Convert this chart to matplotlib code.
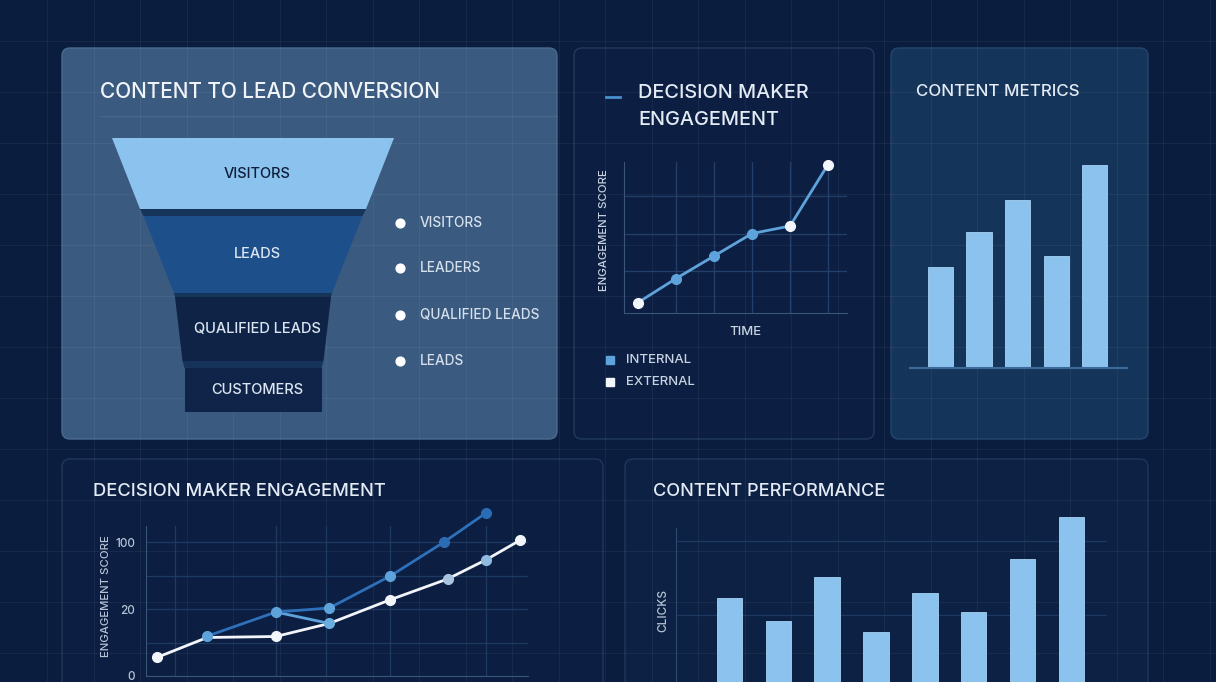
import numpy as np
import matplotlib.pyplot as plt
from matplotlib.patches import FancyBboxPatch, Polygon, Rectangle

plt.rcParams['font.family'] = ['Inter', 'DejaVu Sans']
plt.rcParams['font.weight'] = 'medium'

W, H = 1216, 682

# ---- data ----
funnel_stages = ['VISITORS', 'LEADS', 'QUALIFIED LEADS', 'CUSTOMERS']
funnel_top = [282, 219, 156, 137]
funnel_bottom = [226, 158, 141, 137]
funnel_legend = ['VISITORS', 'LEADERS', 'QUALIFIED LEADS', 'LEADS']

dm_time = [0, 1, 2, 3, 4, 5]
dm_score = [4, 20, 35, 50, 55, 96]
dm_group = ['external', 'internal', 'internal', 'internal', 'external', 'external']

cm_values = [50, 67, 83, 55, 100]

eng_blue_x = [1.6, 3.4, 4.8, 6.4, 7.8, 8.9]
eng_blue_y = [1.19, 1.91, 2.03, 2.99, 4.0, 4.87]
eng_white_x = [0.3, 1.6, 3.4, 4.8, 6.4, 7.9, 8.9, 9.8]
eng_white_y = [0.56, 1.15, 1.18, 1.57, 2.28, 2.90, 3.47, 4.06]
eng_branch_x = [3.4, 4.8]
eng_branch_y = [1.91, 1.57]

perf_clicks = [123, 92, 151, 77, 130, 104, 176, 232]

# ---- colours ----
BG = '#0a1d3f'
LIGHT = '#8cc3ee'
BLUE = '#5fa3dc'
DARKBLUE = '#2a6cb5'
TXT = '#e4ebf4'


def px_axes(fig, x0, y0, x1, y1):
    # pixel box (top-left origin) -> figure axes
    return fig.add_axes([x0 / W, 1 - y1 / H, (x1 - x0) / W, (y1 - y0) / H])


fig = plt.figure(figsize=(W / 100, H / 100), dpi=100)
fig.patch.set_facecolor(BG)

bg = fig.add_axes([0, 0, 1, 1])
bg.set_xlim(0, W)
bg.set_ylim(H, 0)
bg.axis('off')

# panels
panels = [
    (62, 48, 557, 439, '#3a5a7f', '#4a6a8f'),
    (574, 48, 874, 439, '#0c1f42', '#22395e'),
    (891, 48, 1148, 439, '#15345a', '#24466e'),
    (62, 459, 603, 710, '#0c1f42', '#1f375c'),
    (625, 459, 1148, 710, '#0c2144', '#1f375c'),
]
for x0, y0, x1, y1, fc, ec in panels:
    bg.add_patch(FancyBboxPatch((x0, y0), x1 - x0, y1 - y0,
                                boxstyle='round,pad=0,rounding_size=8',
                                fc=fc, ec=ec, lw=1, zorder=1))

# page grid
for gx in np.arange(47, W, 46.5):
    bg.axvline(gx, color='white', alpha=0.05, lw=0.8, zorder=2)
for gy in np.arange(41, H, 51):
    bg.axhline(gy, color='white', alpha=0.05, lw=0.8, zorder=2)

# ---- panel 1: funnel ----
bg.text(100, 92, 'CONTENT TO LEAD CONVERSION', color='#f0f4f8', fontsize=15,
        va='center', ha='left', zorder=5)
bg.plot([100, 557], [116, 116], color='white', alpha=0.08, lw=1, zorder=3)

ax_f = px_axes(fig, 62, 120, 557, 430)
ax_f.set_xlim(-191, 304)
ax_f.set_ylim(430, 120)
ax_f.axis('off')
ax_f.patch.set_alpha(0)

stage_y = [(138, 209), (216, 293), (297, 361), (368, 412)]
stage_fc = [LIGHT, '#1d4f8a', '#0e2346', '#0f2448']
stage_tc = ['#0e1f3b', '#dbe6f2', '#dbe6f2', '#dbe6f2']
band_fc = '#16335a'
for i in range(len(funnel_stages)):
    t, b = stage_y[i]
    wt, wb = funnel_top[i], funnel_bottom[i]
    ax_f.add_patch(Polygon([(-wt / 2, t), (wt / 2, t), (wb / 2, b), (-wb / 2, b)],
                           closed=True, fc=stage_fc[i], ec='none', zorder=3))
    if i + 1 < len(funnel_stages):
        nt = stage_y[i + 1][0]
        wn = funnel_top[i + 1]
        ax_f.add_patch(Polygon([(-wb / 2, b), (wb / 2, b), (wn / 2, nt), (-wn / 2, nt)],
                               closed=True, fc=band_fc, ec='none', zorder=2))
    ax_f.text(4, (t + b) / 2, funnel_stages[i], color=stage_tc[i], fontsize=10.5,
              ha='center', va='center', zorder=4)

leg_y = [223, 268, 315, 361]
for lab, ly in zip(funnel_legend, leg_y):
    bg.scatter([400], [ly], s=40, color='white', zorder=5)
    bg.text(420, ly, lab, color='#d6e0ec', fontsize=9.8, va='center', ha='left', zorder=5)

# ---- panel 2: decision maker engagement line ----
bg.plot([606, 620], [97, 97], color='#4a8fd0', lw=2, zorder=5)
bg.text(638, 93, 'DECISION MAKER', color=TXT, fontsize=14.3, va='center', zorder=5)
bg.text(638, 120, 'ENGAGEMENT', color=TXT, fontsize=14.3, va='center', zorder=5)

ax2 = px_axes(fig, 624, 162, 847, 313)
ax2.patch.set_alpha(0)
ax2.plot(dm_time, dm_score, color=BLUE, lw=2, zorder=3, clip_on=False)
mcol = {'internal': BLUE, 'external': '#f2f5f9'}
for t, s, g in zip(dm_time, dm_score, dm_group):
    ax2.plot(t, s, 'o', ms=7, color=mcol[g], zorder=4, clip_on=False)
ax2.set_xlim(-0.37, 5.5)
ax2.set_ylim(-3, 97.7)
ax2.set_xticks(dm_time[1:])
ax2.set_yticks([25, 50, 75])
ax2.tick_params(length=0, labelbottom=False, labelleft=False)
ax2.grid(True, color='#24406a', lw=0.9)
for sp in ['top', 'right']:
    ax2.spines[sp].set_visible(False)
for sp in ['left', 'bottom']:
    ax2.spines[sp].set_color('#3b557a')
bg.text(604, 230, 'ENGAGEMENT SCORE', rotation=90, color='#c8d3e2', fontsize=8.2,
        ha='center', va='center', zorder=5)
bg.text(745, 332, 'TIME', color='#c8d3e2', fontsize=9.5, ha='center', va='center', zorder=5)
bg.add_patch(Rectangle((606, 356), 8, 8, color=BLUE, zorder=5))
bg.add_patch(Rectangle((606, 378), 8, 8, color='#f2f5f9', zorder=5))
bg.text(626, 360, 'INTERNAL', color='#c8d3e2', fontsize=9.5, va='center', zorder=5)
bg.text(626, 382, 'EXTERNAL', color='#c8d3e2', fontsize=9.5, va='center', zorder=5)

# ---- panel 3: content metrics ----
bg.text(916, 91, 'CONTENT METRICS', color=TXT, fontsize=12.2, va='center', zorder=5)
ax3 = px_axes(fig, 910, 150, 1127, 368)
ax3.patch.set_alpha(0)
ax3.bar(range(len(cm_values)), cm_values, width=0.65, color=LIGHT,
        edgecolor='#a5d2f4', lw=0.6, zorder=3)
ax3.set_xlim(-0.79, 4.84)
ax3.set_ylim(0, 107.4)
ax3.axhline(0, color='#3c6a9a', lw=1.5, zorder=4, clip_on=False)
ax3.axis('off')

# ---- panel 4: decision maker engagement (bottom) ----
bg.text(93, 492, 'DECISION MAKER ENGAGEMENT', color=TXT, fontsize=13.2, va='center', zorder=5)
ax4 = px_axes(fig, 146, 526, 528, 676)
ax4.patch.set_alpha(0)
ax4.plot(eng_white_x, eng_white_y, color='#f2f5f9', lw=2, zorder=3, clip_on=False)
ax4.plot(eng_branch_x, eng_branch_y, color=BLUE, lw=2, zorder=3, clip_on=False)
ax4.plot(eng_blue_x, eng_blue_y, color='#2e70ba', lw=2, zorder=4, clip_on=False)
white_mc = ['#f2f5f9', None, '#f2f5f9', '#6aaee0', '#f2f5f9', '#a9c4de', '#8fbbe0', '#f2f5f9']
for x, y, c in zip(eng_white_x, eng_white_y, white_mc):
    if c:
        ax4.plot(x, y, 'o', ms=7, color=c, zorder=5, clip_on=False)
blue_mc = [BLUE, BLUE, BLUE, BLUE, DARKBLUE, DARKBLUE]
for x, y, c in zip(eng_blue_x, eng_blue_y, blue_mc):
    ax4.plot(x, y, 'o', ms=7, color=c, zorder=6, clip_on=False)
ax4.set_xlim(0, 10)
ax4.set_ylim(0, 4.48)
ax4.set_yticks([0, 2, 4])
ax4.set_yticklabels(['0', '20', '100'])
ax4.set_yticks([1, 3], minor=True)
ax4.set_xticks([0.76, 3.4, 4.7, 6.4, 8.9])
ax4.tick_params(axis='both', which='both', length=0, labelbottom=False,
                labelcolor='#b7c4d6', labelsize=8.5, pad=8)
ax4.grid(True, which='both', color='#1f3a62', lw=0.9)
for sp in ['top', 'right']:
    ax4.spines[sp].set_visible(False)
for sp in ['left', 'bottom']:
    ax4.spines[sp].set_color('#3b557a')
bg.text(106, 596, 'ENGAGEMENT SCORE', rotation=90, color='#b7c4d6', fontsize=8.2,
        ha='center', va='center', zorder=5)

# ---- panel 5: content performance ----
bg.text(653, 492, 'CONTENT PERFORMANCE', color=TXT, fontsize=13.1, va='center', zorder=5)
ax5 = px_axes(fig, 676, 504, 1107, 689)
ax5.patch.set_alpha(0)
ax5.bar(range(len(perf_clicks)), perf_clicks, width=0.52, color=LIGHT,
        edgecolor='#a5d2f4', lw=0.6, zorder=3, clip_on=False)
ax5.set_xlim(-1.095, 7.73)
ax5.set_ylim(0, 250)
ax5.set_yticks([100, 200])
ax5.set_xticks([])
ax5.tick_params(length=0, labelleft=False)
ax5.grid(True, axis='y', color='#1f3a62', lw=0.9)
for sp in ['top', 'right', 'bottom']:
    ax5.spines[sp].set_visible(False)
ax5.spines['left'].set_color('#2f4a70')
ax5.spines['left'].set_bounds(0, 217)
bg.text(663, 611, 'CLICKS', rotation=90, color='#b7c4d6', fontsize=8.5,
        ha='center', va='center', zorder=5)

fig.savefig('out.png', dpi=100, facecolor=BG)
